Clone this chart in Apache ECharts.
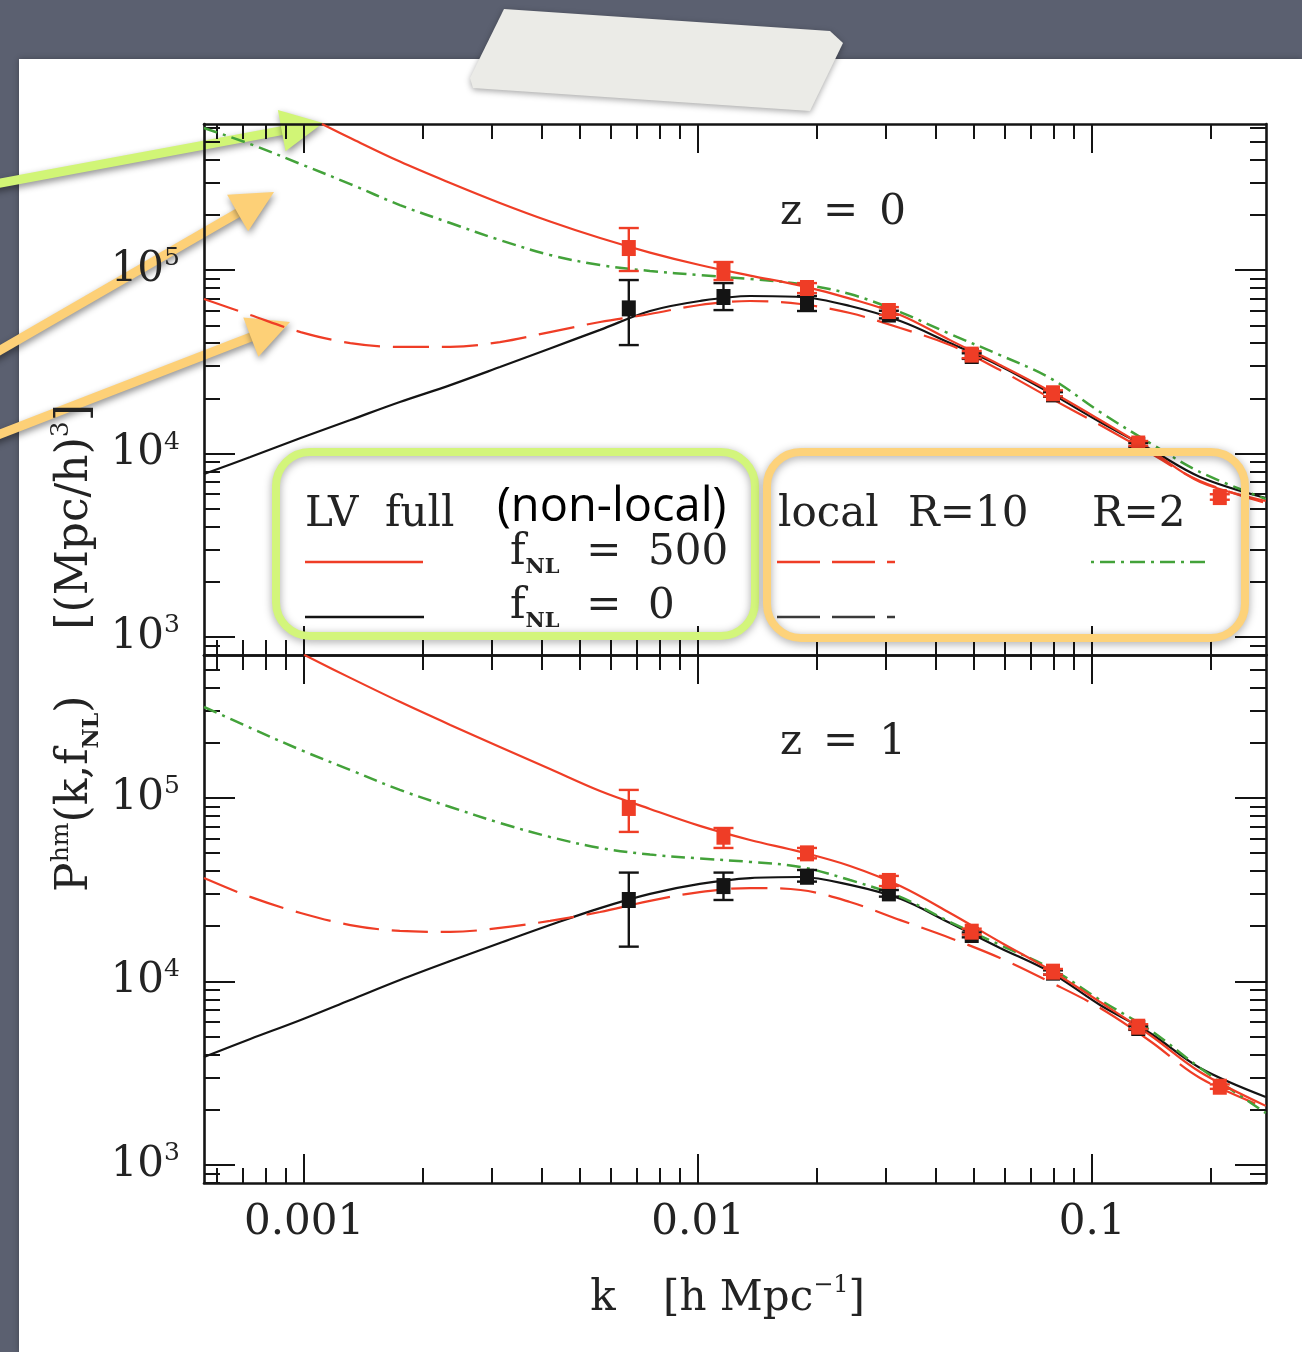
<!DOCTYPE html>
<html>
<head>
<meta charset="utf-8">
<title>P_hm(k, f_NL)</title>
<script src="https://cdn.jsdelivr.net/npm/echarts@6.0.0/dist/echarts.min.js"></script>
<style>
html,body{margin:0;padding:0;background:#5a5f6c;}
#chart{width:1302px;height:1352px;}
</style>
</head>
<body>
<div id="chart"></div>
<script>
// ================= DATA =================
// common k grid for the model curves [h/Mpc]
const kCurve = [0.000557, 0.00073, 0.00098, 0.00131, 0.00175, 0.00235, 0.00314, 0.00421, 0.00564, 0.00755, 0.0101,
                0.01355, 0.0182, 0.0243, 0.0326, 0.0436, 0.0584, 0.0782, 0.1048, 0.1403, 0.188, 0.276];
// red solid curves leave the frame through the top, so they start later
const kFullTop = [0.00111, 0.00131, 0.00175, 0.00235, 0.00314, 0.00421, 0.00564, 0.00755, 0.0101,
                  0.01355, 0.0182, 0.0243, 0.0326, 0.0436, 0.0584, 0.0782, 0.1048, 0.1403, 0.188, 0.276];
const kFullBot = [0.001, 0.00131, 0.00175, 0.00235, 0.00314, 0.00421, 0.00564, 0.00755, 0.0101,
                  0.01355, 0.0182, 0.0243, 0.0326, 0.0436, 0.0584, 0.0782, 0.1048, 0.1403, 0.188, 0.276];

// z = 0 panel
const fullFnl500Z0 = [6.25e5, 5.24e5, 3.90e5, 2.98e5, 2.32e5, 1.838e5, 1.494e5, 1.245e5, 1.065e5, 9.33e4,
                      8.23e4, 6.99e4, 5.69e4, 4.15e4, 3.04e4, 2.19e4, 1.523e4, 1.045e4, 6.99e3, 5.51e3];
const localR2Fnl500Z0 = [5.94e5, 4.86e5, 3.78e5, 2.94e5, 2.26e5, 1.804e5, 1.457e5, 1.207e5, 1.065e5, 9.88e4, 9.39e4,
                         8.93e4, 8.39e4, 7.40e4, 5.90e4, 4.48e4, 3.44e4, 2.58e4, 1.684e4, 1.141e4, 7.93e3, 5.65e3];
const localR10Fnl500Z0 = [6.95e4, 5.69e4, 4.59e4, 4.00e4, 3.81e4, 3.81e4, 4.05e4, 4.59e4, 5.21e4, 5.76e4, 6.45e4,
                          6.78e4, 6.53e4, 5.83e4, 4.83e4, 3.90e4, 2.85e4, 2.01e4, 1.430e4, 1.006e4, 7.08e3, 5.37e3];
const fnl0Z0 = [7.73e3, 9.57e3, 1.215e4, 1.523e4, 1.909e4, 2.36e4, 2.96e4, 3.74e4, 4.72e4, 5.98e4, 6.78e4,
                7.22e4, 7.13e4, 6.37e4, 5.27e4, 4.00e4, 3.00e4, 2.14e4, 1.485e4, 1.058e4, 7.45e3, 5.72e3];

// z = 1 panel
const fullFnl500Z1 = [6.02e5, 4.51e5, 3.34e5, 2.50e5, 1.897e5, 1.439e5, 1.092e5, 8.71e4, 7.04e4, 5.90e4,
                      5.08e4, 4.26e4, 3.31e4, 2.36e4, 1.642e4, 1.155e4, 7.73e3, 5.11e3, 3.21e3, 2.10e3];
const localR2Fnl500Z1 = [3.13e5, 2.41e5, 1.826e5, 1.421e5, 1.106e5, 8.93e4, 7.31e4, 6.13e4, 5.34e4, 4.92e4, 4.68e4,
                         4.48e4, 4.21e4, 3.57e4, 2.89e4, 2.11e4, 1.581e4, 1.185e4, 7.93e3, 5.44e3, 3.38e3, 1.92e3];
const localR10Fnl500Z1 = [3.66e4, 2.89e4, 2.36e4, 2.03e4, 1.885e4, 1.861e4, 1.957e4, 2.14e4, 2.39e4, 2.75e4, 3.07e4,
                          3.23e4, 3.15e4, 2.71e4, 2.16e4, 1.726e4, 1.343e4, 9.94e3, 7.17e3, 4.74e3, 2.98e3, 2.05e3];
const fnl0Z1 = [3.88e3, 4.86e3, 6.17e3, 7.93e3, 1.019e4, 1.293e4, 1.621e4, 2.03e4, 2.51e4, 3.00e4, 3.40e4,
                3.66e4, 3.71e4, 3.36e4, 2.82e4, 2.08e4, 1.523e4, 1.127e4, 7.45e3, 5.24e3, 3.38e3, 2.35e3];

// simulation measurements (fNL = 500 at 8 k values, fNL = 0 at the first 7)
const kPts = [0.00667, 0.0116, 0.0189, 0.0305, 0.0495, 0.0796, 0.131, 0.211];
const kPtsFnl0 = [0.00667, 0.0116, 0.0189, 0.0305, 0.0495, 0.0796, 0.131];
const sim500Z0   = [1.318e5, 9.88e4, 7.98e4, 5.98e4, 3.46e4, 2.13e4, 1.134e4, 5.79e3];
const sim500Z0Lo = [9.88e4, 8.82e4, 7.49e4, 5.69e4, 3.31e4, 2.05e4, 1.10e4, 5.6e3];
const sim500Z0Hi = [1.694e5, 1.106e5, 8.49e4, 6.28e4, 3.62e4, 2.21e4, 1.17e4, 6.0e3];
const sim0Z0     = [6.18e4, 7.13e4, 6.61e4, 5.72e4, 3.40e4, 2.10e4, 1.112e4];
const sim0Z0Lo   = [3.90e4, 6.05e4, 5.98e4, 5.45e4, 3.28e4, 2.04e4, 1.08e4];
const sim0Z0Hi   = [8.82e4, 8.49e4, 7.22e4, 6.00e4, 3.52e4, 2.16e4, 1.14e4];
const sim500Z1   = [8.82e4, 6.15e4, 4.99e4, 3.53e4, 1.868e4, 1.131e4, 5.67e3, 2.67e3];
const sim500Z1Lo = [6.53e4, 5.34e4, 4.69e4, 3.31e4, 1.80e4, 1.09e4, 5.5e3, 2.6e3];
const sim500Z1Hi = [1.106e5, 6.86e4, 5.34e4, 3.76e4, 1.94e4, 1.17e4, 5.85e3, 2.75e3];
const sim0Z1     = [2.78e4, 3.31e4, 3.72e4, 3.02e4, 1.792e4, 1.117e4, 5.58e3];
const sim0Z1Lo   = [1.548e4, 2.78e4, 3.50e4, 2.90e4, 1.74e4, 1.09e4, 5.45e3];
const sim0Z1Hi   = [3.92e4, 3.92e4, 4.05e4, 3.15e4, 1.85e4, 1.15e4, 5.7e3];

// axes
const xRange = [5.57e-4, 0.2764];
const yRangeTop = [798, 6.25e5];
const yRangeBot = [798, 6.01e5];
const xMajor = [0.001, 0.01, 0.1];
const xTickLabels = ['0.001', '0.01', '0.1'];
const xMinor = [0.0006, 0.0007, 0.0008, 0.0009, 0.002, 0.003, 0.004, 0.005, 0.006, 0.007, 0.008, 0.009,
                0.02, 0.03, 0.04, 0.05, 0.06, 0.07, 0.08, 0.09, 0.2];
const yMajor = [1000, 10000, 100000];
const yTickExponents = ['3', '4', '5'];
const yMinor = [800, 900, 2000, 3000, 4000, 5000, 6000, 7000, 8000, 9000,
                20000, 30000, 40000, 50000, 60000, 70000, 80000, 90000,
                200000, 300000, 400000, 500000, 600000];

// ================= STYLE =================
const SERIF = '"DejaVu Serif", "Liberation Serif", serif';
const INK = '#141414';
const TXT = '#232323';
const RED = '#ef3d26';
const GREEN = '#43a23a';
const DASH_LONG = [36, 13];
const DASH_DOT = [14, 6, 3, 6];

function inRange(vals, r) { return vals.filter(v => v >= r[0] && v <= r[1]); }

function makeX(grid, pos, vals, len, withLine, withLabel) {
  return {
    type: 'log', logBase: 10, gridIndex: grid, position: pos,
    min: xRange[0], max: xRange[1],
    axisLine: { show: withLine, onZero: false, lineStyle: { color: INK, width: 2.6 } },
    axisTick: { show: true, inside: true, length: len, customValues: inRange(vals, xRange),
                lineStyle: { color: INK, width: 2 } },
    minorTick: { show: false }, splitLine: { show: false }, minorSplitLine: { show: false },
    axisLabel: withLabel ? {
      show: true, customValues: xMajor, margin: 19, color: TXT,
      fontFamily: SERIF, fontSize: 42,
      formatter: v => xTickLabels[Math.round(Math.log10(v)) + 3]
    } : { show: false },
    axisPointer: { show: false }, silent: true, z: 3
  };
}
function makeY(grid, pos, range, vals, len, withLine, withLabel) {
  return {
    type: 'log', logBase: 10, gridIndex: grid, position: pos,
    min: range[0], max: range[1],
    axisLine: { show: withLine, onZero: false, lineStyle: { color: INK, width: 2.6 } },
    axisTick: { show: true, inside: true, length: len, customValues: inRange(vals, range),
                lineStyle: { color: INK, width: 2 } },
    minorTick: { show: false }, splitLine: { show: false }, minorSplitLine: { show: false },
    axisLabel: withLabel ? {
      show: true, customValues: yMajor, margin: 24,
      formatter: v => '{b|10}{s|' + yTickExponents[Math.round(Math.log10(v)) - 3] + '}',
      rich: {
        b: { fontFamily: SERIF, fontSize: 42, color: TXT, lineHeight: 48 },
        s: { fontFamily: SERIF, fontSize: 25, color: TXT, lineHeight: 25, verticalAlign: 'top' }
      }
    } : { show: false },
    axisPointer: { show: false }, silent: true, z: 3
  };
}

const MAJ = 29, MIN = 15;
const xAxes = [
  makeX(0, 'bottom', xMajor, MAJ, true, false),   // 0
  makeX(0, 'bottom', xMinor, MIN, false, false),  // 1
  makeX(0, 'top', xMajor, MAJ, true, false),      // 2
  makeX(0, 'top', xMinor, MIN, false, false),     // 3
  makeX(1, 'bottom', xMajor, MAJ, true, true),    // 4
  makeX(1, 'bottom', xMinor, MIN, false, false),  // 5
  makeX(1, 'top', xMajor, MAJ, true, false),      // 6
  makeX(1, 'top', xMinor, MIN, false, false)      // 7
];
const yAxes = [
  makeY(0, 'left', yRangeTop, yMajor, MAJ + 2, true, true),     // 0
  makeY(0, 'left', yRangeTop, yMinor, MIN + 1, false, false),   // 1
  makeY(0, 'right', yRangeTop, yMajor, MAJ + 2, true, false),   // 2
  makeY(0, 'right', yRangeTop, yMinor, MIN + 1, false, false),  // 3
  makeY(1, 'left', yRangeBot, yMajor, MAJ + 2, true, true),     // 4
  makeY(1, 'left', yRangeBot, yMinor, MIN + 1, false, false),   // 5
  makeY(1, 'right', yRangeBot, yMajor, MAJ + 2, true, false),   // 6
  makeY(1, 'right', yRangeBot, yMinor, MIN + 1, false, false)   // 7
];

function curve(ax, ks, vals, color, type, width, z) {
  return {
    type: 'line', xAxisIndex: ax, yAxisIndex: ax,
    data: ks.map((k, i) => [k, vals[i]]),
    symbol: 'none', showSymbol: false, smooth: 0.35, clip: true,
    lineStyle: { color: color, width: width, type: type },
    silent: true, z: z, animation: false
  };
}
function errorBars(ax, ks, lo, hi, color, z) {
  return {
    type: 'custom', xAxisIndex: ax, yAxisIndex: ax,
    data: ks.map((k, i) => [k, lo[i], hi[i]]),
    encode: { x: 0, y: [1, 2] }, clip: true, silent: true, z: z, animation: false,
    renderItem: function (params, api) {
      const a = api.coord([api.value(0), api.value(1)]);
      const b = api.coord([api.value(0), api.value(2)]);
      const w = 10;
      const st = { stroke: color, lineWidth: 2.4 };
      return { type: 'group', children: [
        { type: 'line', shape: { x1: a[0], y1: a[1], x2: b[0], y2: b[1] }, style: st },
        { type: 'line', shape: { x1: a[0] - w, y1: a[1], x2: a[0] + w, y2: a[1] }, style: st },
        { type: 'line', shape: { x1: b[0] - w, y1: b[1], x2: b[0] + w, y2: b[1] }, style: st }
      ]};
    }
  };
}
function points(ax, ks, vals, color, z) {
  return {
    type: 'scatter', xAxisIndex: ax, yAxisIndex: ax,
    data: ks.map((k, i) => [k, vals[i]]),
    symbol: 'rect', symbolSize: [14, 16], itemStyle: { color: color, opacity: 1 },
    silent: true, z: z, animation: false
  };
}

const series = [];
[[0, fullFnl500Z0, localR2Fnl500Z0, localR10Fnl500Z0, fnl0Z0, kFullTop,
  sim500Z0, sim500Z0Lo, sim500Z0Hi, sim0Z0, sim0Z0Lo, sim0Z0Hi],
 [4, fullFnl500Z1, localR2Fnl500Z1, localR10Fnl500Z1, fnl0Z1, kFullBot,
  sim500Z1, sim500Z1Lo, sim500Z1Hi, sim0Z1, sim0Z1Lo, sim0Z1Hi]].forEach(p => {
  const ax = p[0];
  series.push(curve(ax, kCurve, p[4], INK, 'solid', 2.2, 4));
  series.push(curve(ax, kCurve, p[3], RED, DASH_LONG, 2.2, 5));
  series.push(curve(ax, kCurve, p[2], GREEN, DASH_DOT, 2.5, 5));
  series.push(curve(ax, p[5], p[1], RED, 'solid', 2.2, 6));
  series.push(errorBars(ax, kPtsFnl0, p[10], p[11], INK, 7));
  series.push(points(ax, kPtsFnl0, p[9], INK, 8));
  series.push(errorBars(ax, kPts, p[7], p[8], RED, 9));
  series.push(points(ax, kPts, p[6], RED, 10));
});

// ================= DECORATION =================
function arrow(x0, y0, x1, y1, color) {
  const dx = x1 - x0, dy = y1 - y0, L = Math.hypot(dx, dy);
  const ux = dx / L, uy = dy / L, nx = -uy, ny = ux;
  const hl = 42, hw = 21;
  const bx = x1 - hl * ux, by = y1 - hl * uy;
  const sh = { shadowBlur: 7, shadowColor: 'rgba(0,0,0,0.45)', shadowOffsetX: 1, shadowOffsetY: 3 };
  return { type: 'group', z: 100, silent: true, children: [
    { type: 'line', shape: { x1: x0, y1: y0, x2: bx + ux * 3, y2: by + uy * 3 },
      style: Object.assign({ stroke: color, lineWidth: 9 }, sh) },
    { type: 'polygon', shape: { points: [[x1, y1], [bx + nx * hw, by + ny * hw], [bx - nx * hw, by - ny * hw]] },
      style: Object.assign({ fill: color }, sh) }
  ]};
}
const txt = (x, y, text, size, extra) => ({
  type: 'text', x: x, y: y, z: 60, silent: true,
  style: Object.assign({ text: text, fill: TXT, font: size + 'px ' + SERIF, align: 'left', verticalAlign: 'middle' }, extra || {})
});
const richText = (x, y, text, rich, extra) => ({
  type: 'text', x: x, y: y, z: 60, silent: true,
  style: Object.assign({ text: text, rich: rich, fill: TXT, align: 'left', verticalAlign: 'middle' }, extra || {})
});
const sampleLine = (x1, x2, y, color, dash) => ({
  type: 'line', z: 60, silent: true, shape: { x1: x1, y1: y, x2: x2, y2: y },
  style: { stroke: color, lineWidth: 2.3, lineDash: dash || null }
});
const fRich = {
  m: { fontFamily: SERIF, fontSize: 42, color: TXT, lineHeight: 50 },
  n: { fontFamily: SERIF, fontSize: 21, fontWeight: 'bold', color: TXT, lineHeight: 21, verticalAlign: 'bottom' }
};

const yTitle = richText(76, 648, '{m|P}{s|hm}{m|(k,f}{n|NL}{m|)\u2003\u2002[(Mpc/h)}{s|3}{m|]}', {
  m: { fontFamily: SERIF, fontSize: 44, color: TXT, lineHeight: 54 },
  s: { fontFamily: SERIF, fontSize: 25, color: TXT, lineHeight: 25, verticalAlign: 'top' },
  n: { fontFamily: SERIF, fontSize: 22, fontWeight: 'bold', color: TXT, lineHeight: 22, verticalAlign: 'bottom' }
}, { align: 'center' });
yTitle.rotation = Math.PI / 2;

const graphics = [
  { type: 'rect', z: -10, silent: true, shape: { x: 19, y: 59, width: 1283, height: 1293 },
    style: { fill: '#ffffff', shadowBlur: 6, shadowColor: 'rgba(0,0,0,0.3)' } },
  { type: 'polygon', z: 100, silent: true,
    shape: { points: [[504, 9], [830, 31], [843, 43], [810, 111], [473, 88], [470, 78]] },
    style: { fill: '#ebebe7', shadowBlur: 6, shadowColor: 'rgba(0,0,0,0.35)', shadowOffsetY: 2 } },
  // legend boxes
  { type: 'rect', z: 50, silent: true, shape: { x: 276, y: 452, width: 479, height: 184, r: 34 },
    style: { fill: null, stroke: '#d3f57b', lineWidth: 8, shadowBlur: 8, shadowColor: 'rgba(0,0,0,0.35)', shadowOffsetY: 2 } },
  { type: 'rect', z: 50, silent: true, shape: { x: 767, y: 452, width: 478, height: 186, r: 34 },
    style: { fill: null, stroke: '#fdd27a', lineWidth: 8, shadowBlur: 8, shadowColor: 'rgba(0,0,0,0.35)', shadowOffsetY: 2 } },
  // legend content
  txt(305, 515, 'LV  full', 42),
  txt(497, 508, '(non-local)', 47, { font: '47px "Open Sans", "Noto Sans", sans-serif', fill: '#000' }),
  richText(510, 553, '{m|f}{n|NL}{m|  =  500}', fRich),
  richText(510, 607, '{m|f}{n|NL}{m|  =  0}', fRich),
  sampleLine(305, 423, 562, RED),
  sampleLine(305, 424, 617, INK),
  txt(778, 515, 'local\u2002\u2009R=10', 42),
  txt(1092, 515, 'R=2', 42),
  sampleLine(777, 895, 562, RED, [43, 12]),
  sampleLine(777, 895, 617, '#3a3a3a', [43, 12]),
  sampleLine(1091, 1211, 562, GREEN, [3, 6, 15, 6]),
  // panel labels
  txt(843, 213, 'z\u2002=\u20020', 42, { align: 'center' }),
  txt(843, 743, 'z\u2002=\u20021', 42, { align: 'center' }),
  // axis titles
  txt(603, 1299, 'k', 42, { align: 'center' }),
  richText(663, 1299, '{m|[h Mpc}{s|\u22121}{m|]}', {
    m: { fontFamily: SERIF, fontSize: 42, color: TXT, lineHeight: 50 },
    s: { fontFamily: SERIF, fontSize: 24, color: TXT, lineHeight: 24, verticalAlign: 'top' }
  }),
  yTitle,
  // annotation arrows
  arrow(-10, 185, 323, 123, '#d1f576'),
  arrow(-10, 356, 274, 192, '#fdd077'),
  arrow(-10, 438, 290, 322, '#fdd077')
];

const option = {
  backgroundColor: '#5b6070',
  animation: false,
  grid: [
    { left: 204, top: 124, width: 1062, height: 531, show: false, containLabel: false, outerBoundsMode: 'none' },
    { left: 204, top: 655, width: 1062, height: 528, show: false, containLabel: false, outerBoundsMode: 'none' }
  ],
  xAxis: xAxes,
  yAxis: yAxes,
  series: series,
  graphic: { elements: graphics }
};

const chart = echarts.init(document.getElementById('chart'), null, { renderer: 'canvas' });
chart.setOption(option);
</script>
</body>
</html>
